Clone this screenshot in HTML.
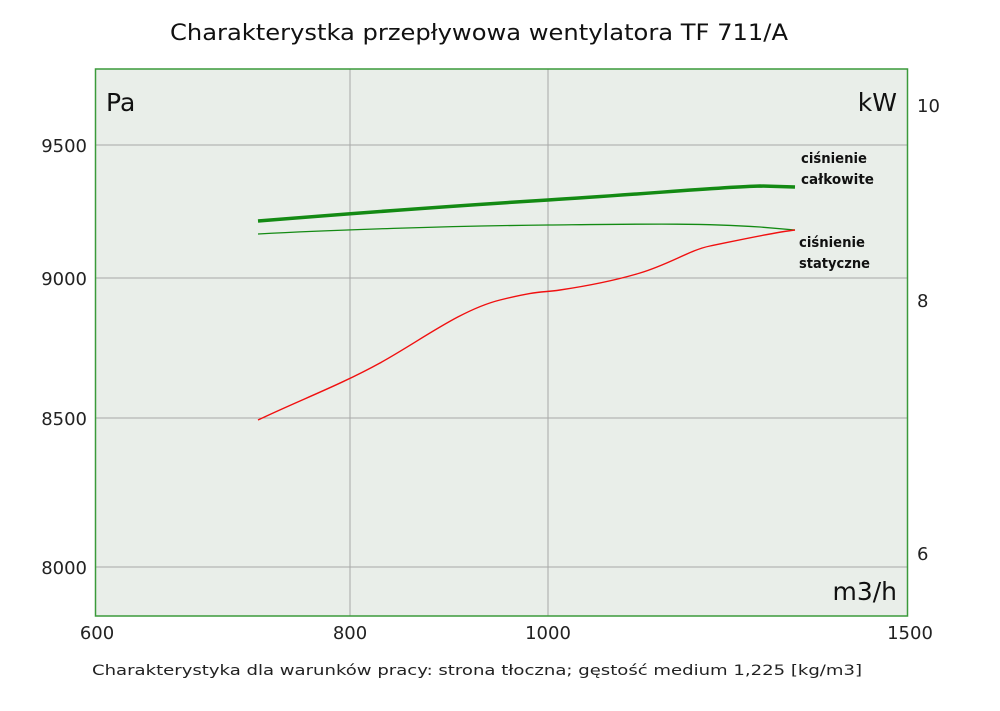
<!DOCTYPE html>
<html><head><meta charset="utf-8"><style>body{margin:0;background:#fff}</style></head>
<body>
<svg width="1000" height="706" xmlns="http://www.w3.org/2000/svg" font-family="DejaVu Sans, Liberation Sans, sans-serif">
<rect width="1000" height="706" fill="#fff"/>
<text x="170" y="40" font-size="22" textLength="618" lengthAdjust="spacingAndGlyphs" fill="#111">Charakterystka przepływowa wentylatora TF 711/A</text>
<rect x="95.5" y="69" width="812" height="547" fill="#e9eee9"/>
<g stroke="#a8a8a8" stroke-width="1">
<line x1="350" y1="69" x2="350" y2="616"/><line x1="548" y1="69" x2="548" y2="616"/>
<line x1="95" y1="145" x2="907" y2="145"/><line x1="95" y1="278" x2="907" y2="278"/>
<line x1="95" y1="418" x2="907" y2="418"/><line x1="95" y1="567" x2="907" y2="567"/>
</g>
<rect x="95.5" y="69" width="812" height="547" fill="none" stroke="#3a9a3a" stroke-width="1.5"/>
<path d="M258,221 C320,216 450,206 548,200 S720,187 760,186 L795,187" fill="none" stroke="#138a13" stroke-width="3.5"/>
<path d="M258,234 C330,230 450,226 548,225 S700,223 760,227 L795,230" fill="none" stroke="#138a13" stroke-width="1.3"/>
<path d="M258,420 C300,400 340,385 380,363 S460,310 500,300 S540,293 560,290 S610,282 640,273 S690,250 710,246 S770,233 795,230" fill="none" stroke="#f01010" stroke-width="1.4"/>
<g font-size="25" fill="#111"><text x="106" y="111">Pa</text><text x="897" y="111" text-anchor="end">kW</text><text x="897" y="600" text-anchor="end">m3/h</text></g>
<g font-size="14" fill="#111" font-weight="bold"><text x="801" y="163" textLength="66" lengthAdjust="spacingAndGlyphs">ciśnienie</text><text x="801" y="184" textLength="73" lengthAdjust="spacingAndGlyphs">całkowite</text><text x="799" y="247" textLength="66" lengthAdjust="spacingAndGlyphs">ciśnienie</text><text x="799" y="268" textLength="71" lengthAdjust="spacingAndGlyphs">statyczne</text></g>
<g font-size="18" fill="#222" text-anchor="end"><text x="87" y="152">9500</text><text x="87" y="285">9000</text><text x="87" y="425">8500</text><text x="87" y="574">8000</text></g>
<g font-size="18" fill="#222"><text x="917" y="112">10</text><text x="917" y="307">8</text><text x="917" y="560">6</text></g>
<g font-size="18" fill="#222" text-anchor="middle"><text x="97" y="639">600</text><text x="350" y="639">800</text><text x="548" y="639">1000</text><text x="910" y="639">1500</text></g>
<text x="92" y="675" font-size="14" textLength="770" lengthAdjust="spacingAndGlyphs" fill="#222">Charakterystyka dla warunków pracy: strona tłoczna; gęstość medium 1,225 [kg/m3]</text>
</svg>
</body></html>
